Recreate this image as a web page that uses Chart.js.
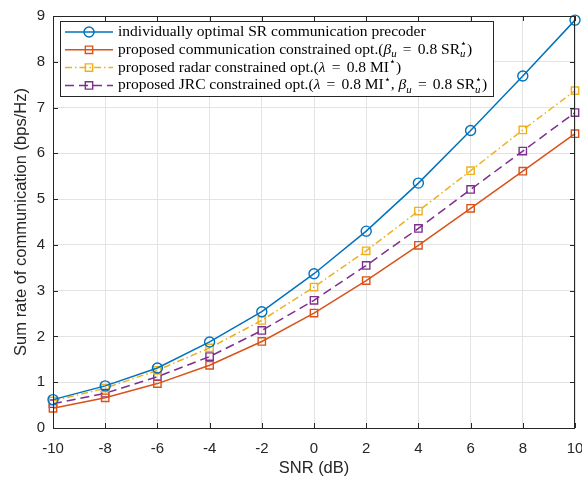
<!DOCTYPE html>
<html>
<head>
<meta charset="utf-8">
<script src="https://cdn.jsdelivr.net/npm/chart.js@4.4.0/dist/chart.umd.min.js"></script>
<style>
  html, body { margin: 0; padding: 0; background: #fff; }
</style>
</head>
<body>
<canvas id="c" width="582" height="478"></canvas>
<script>
const snr = [-10, -8, -6, -4, -2, 0, 2, 4, 6, 8, 10];
const srOptimal = [0.62, 0.92, 1.31, 1.88, 2.54, 3.37, 4.30, 5.35, 6.50, 7.69, 8.91];
const srComm = [0.43, 0.66, 0.97, 1.37, 1.89, 2.51, 3.22, 3.99, 4.80, 5.61, 6.43];
const srRadar = [0.59, 0.87, 1.26, 1.75, 2.35, 3.08, 3.87, 4.74, 5.62, 6.51, 7.37];
const srJrc = [0.53, 0.76, 1.12, 1.56, 2.13, 2.79, 3.55, 4.36, 5.21, 6.05, 6.89];
const xTicks = [-10, -8, -6, -4, -2, 0, 2, 4, 6, 8, 10];
const yTicks = [0, 1, 2, 3, 4, 5, 6, 7, 8, 9];

// legend labels as [text, style, extra] pieces (i = italic, sub, sup, supsub, rel = relation sign)
const legendLabels = [
  [["individually optimal SR communication precoder"]],
  [["proposed communication constrained opt.("], ["β", "i"], ["u", "sub"], ["=", "rel"], ["0.8 SR"], ["⋆", "supsub", "u"], [")"]],
  [["proposed radar constrained opt.("], ["λ", "i"], ["=", "rel"], ["0.8 MI"], ["⋆", "sup"], [")"]],
  [["proposed JRC constrained opt.("], ["λ", "i"], ["=", "rel"], ["0.8 MI"], ["⋆", "sup"], [", "], ["β", "i"], ["u", "sub"], ["=", "rel"], ["0.8 SR"], ["⋆", "supsub", "u"], [")"]]
];

const AX = "#262626";
const serif = "'Liberation Serif', 'DejaVu Serif', serif";
const sans = "'Liberation Sans', Arial, sans-serif";

function ds(label, data, color, style, dash) {
  return {
    label: label,
    data: data.map((v, i) => ({ x: snr[i], y: v })),
    borderColor: color,
    backgroundColor: "transparent",
    borderWidth: 1.5,
    borderDash: dash,
    pointStyle: style,
    pointRadius: style === "circle" ? 5 : 5.2,
    pointBorderWidth: 1.4,
    pointBorderColor: color,
    pointBackgroundColor: "transparent",
    tension: 0,
    clip: false
  };
}

function pieceFont(size, italic) {
  return (italic ? "italic " : "") + size + "px " + serif;
}

function drawRich(ctx, x, y, pieces, size) {
  const small = size * 0.7;
  pieces.forEach(p => {
    const [t, s, extra] = p;
    if (s === "sub") {
      ctx.font = pieceFont(small, true);
      ctx.fillText(t, x, y + size * 0.28);
      x += ctx.measureText(t).width;
    } else if (s === "sup") {
      ctx.font = pieceFont(small, false);
      ctx.fillText(t, x, y - size * 0.35);
      x += ctx.measureText(t).width;
    } else if (s === "supsub") {
      ctx.font = pieceFont(small, false);
      ctx.fillText(t, x, y - size * 0.35);
      const w1 = ctx.measureText(t).width;
      ctx.font = pieceFont(small, true);
      ctx.fillText(extra, x, y + size * 0.3);
      const w2 = ctx.measureText(extra).width;
      x += Math.max(w1, w2);
    } else if (s === "rel") {
      ctx.font = pieceFont(size, false);
      x += size * 0.4;
      ctx.fillText(t, x, y);
      x += ctx.measureText(t).width + size * 0.4;
    } else {
      ctx.font = pieceFont(size, s === "i");
      ctx.fillText(t, x, y);
      x += ctx.measureText(t).width;
    }
  });
  return x;
}

const framePlugin = {
  id: "frame",
  afterDraw(chart) {
    const { ctx, chartArea: a, scales: { x, y } } = chart;
    ctx.save();
    ctx.strokeStyle = AX;
    ctx.lineWidth = 1;
    ctx.beginPath();
    xTicks.forEach(v => {
      const px = Math.round(x.getPixelForValue(v)) + 0.5;
      ctx.moveTo(px, a.bottom); ctx.lineTo(px, a.bottom - 5);
      ctx.moveTo(px, a.top); ctx.lineTo(px, a.top + 5);
    });
    yTicks.forEach(v => {
      const py = Math.round(y.getPixelForValue(v)) + 0.5;
      ctx.moveTo(a.left, py); ctx.lineTo(a.left + 5, py);
      ctx.moveTo(a.right, py); ctx.lineTo(a.right - 5, py);
    });
    ctx.stroke();
    ctx.strokeRect(a.left + 0.5, a.top + 0.5, a.right - a.left - 1, a.bottom - a.top);

    // legend
    const bx = 60.5, by = 21.5, bw = 433, bh = 75;
    ctx.fillStyle = "#fff";
    ctx.fillRect(bx, by, bw, bh);
    ctx.strokeStyle = AX;
    ctx.strokeRect(bx, by, bw, bh);

    ctx.font = pieceFont(13, false);
    const w0 = ctx.measureText(legendLabels[0][0][0]).width;
    const size = 13 * 308 / w0;

    chart.data.datasets.forEach((d, i) => {
      const ry = 32 + i * 17.8;
      ctx.save();
      ctx.strokeStyle = d.borderColor;
      ctx.fillStyle = "rgba(0,0,0,0)";
      ctx.lineWidth = d.borderWidth;
      ctx.setLineDash(d.borderDash || []);
      ctx.beginPath();
      ctx.moveTo(65, ry); ctx.lineTo(113, ry);
      ctx.stroke();
      ctx.setLineDash([]);
      ctx.lineWidth = d.pointBorderWidth;
      Chart.helpers.drawPoint(ctx, { pointStyle: d.pointStyle, radius: d.pointRadius, borderWidth: d.pointBorderWidth, rotation: 0 }, 89, ry);
      ctx.restore();
      ctx.fillStyle = "#000";
      ctx.textBaseline = "middle";
      ctx.textAlign = "left";
      drawRich(ctx, 118, ry, legendLabels[i], size);
    });
    ctx.restore();
  }
};

new Chart(document.getElementById("c").getContext("2d"), {
  type: "line",
  data: {
    datasets: [
      ds("individually optimal SR communication precoder", srOptimal, "#0072BD", "circle", []),
      ds("proposed communication constrained opt.", srComm, "#D95319", "rect", []),
      ds("proposed radar constrained opt.", srRadar, "#EDB120", "rect", [7, 3, 1.5, 3]),
      ds("proposed JRC constrained opt.", srJrc, "#7E2F8E", "rect", [9, 5])
    ]
  },
  options: {
    responsive: false,
    devicePixelRatio: 1,
    animation: false,
    layout: { padding: { top: 16, right: 7, left: 0, bottom: 0 } },
    plugins: { legend: { display: false }, tooltip: { enabled: false } },
    scales: {
      x: {
        type: "linear",
        min: -10, max: 10,
        afterBuildTicks: s => { s.ticks = xTicks.map(v => ({ value: v })); },
        afterFit: s => { s.height = 50; s.paddingLeft = 0; s.paddingRight = 0; },
        grid: { color: "#e3e3e3", drawTicks: false },
        border: { display: false },
        ticks: { color: AX, padding: 12, maxRotation: 0, font: { family: sans, size: 15 } },
        title: { display: true, text: "SNR (dB)", color: AX, padding: { top: 0, bottom: 0 }, font: { family: sans, size: 16.5 } }
      },
      y: {
        type: "linear",
        min: 0, max: 9,
        afterBuildTicks: s => { s.ticks = yTicks.map(v => ({ value: v })); },
        afterFit: s => { s.width = 53; s.paddingTop = 0; s.paddingBottom = 0; },
        grid: { color: "#e3e3e3", drawTicks: false },
        border: { display: false },
        ticks: { color: AX, padding: 8, font: { family: sans, size: 15 } },
        title: { display: true, text: "Sum rate of communication (bps/Hz)", color: AX, padding: { top: 11.5, bottom: 0 }, font: { family: sans, size: 16.5 } }
      }
    }
  },
  plugins: [framePlugin]
});
</script>
</body>
</html>
